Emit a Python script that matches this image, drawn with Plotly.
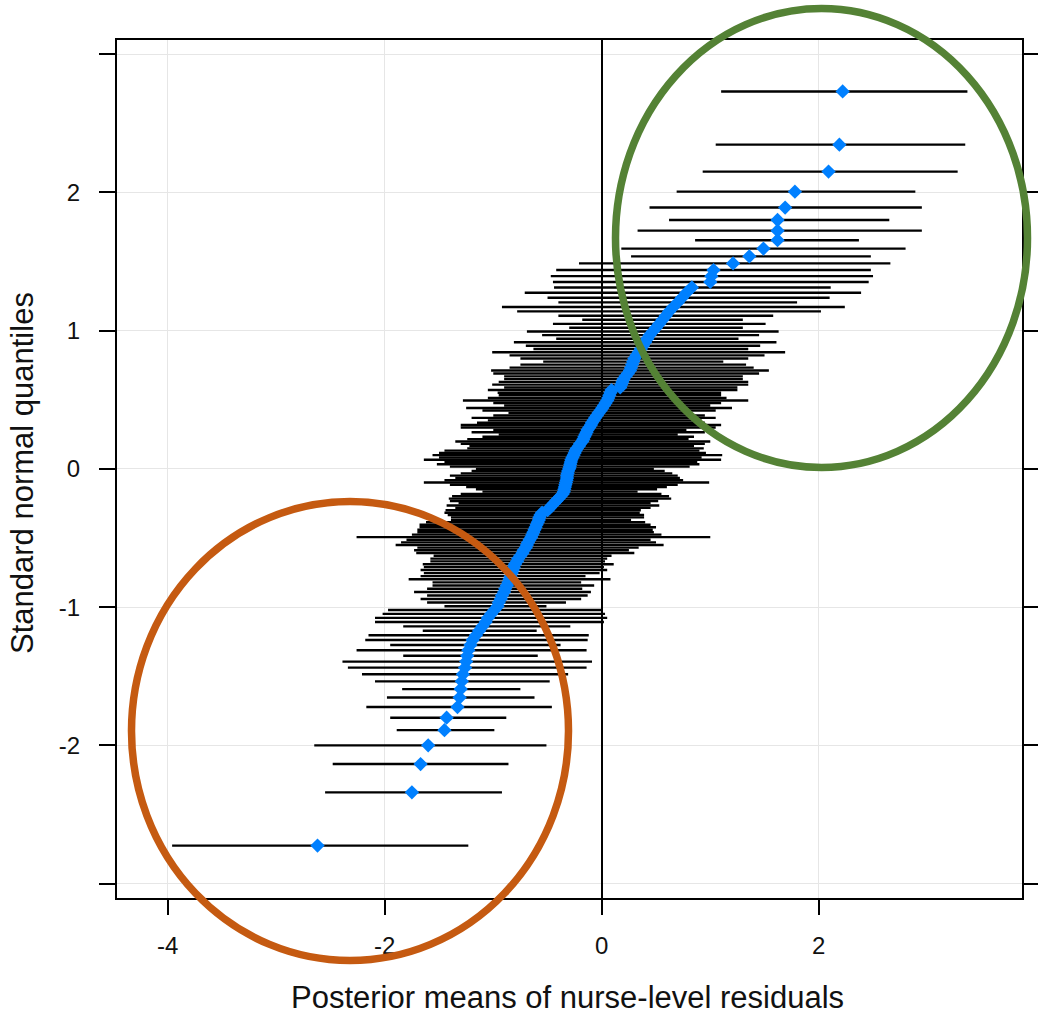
import plotly.graph_objects as go

# Standard normal quantiles (rank order, lowest to highest)
quantile = [
    -2.725, -2.340, -2.135, -2.000, -1.890, -1.800, -1.723, -1.654, -1.593, -1.537,
    -1.486, -1.438, -1.394, -1.352, -1.312, -1.274, -1.238, -1.204, -1.171, -1.139,
    -1.108, -1.078, -1.049, -1.021, -0.994, -0.967, -0.941, -0.916, -0.891, -0.867,
    -0.844, -0.821, -0.798, -0.776, -0.754, -0.732, -0.711, -0.690, -0.669, -0.649,
    -0.629, -0.609, -0.589, -0.570, -0.551, -0.532, -0.513, -0.494, -0.476, -0.458,
    -0.440, -0.422, -0.404, -0.386, -0.369, -0.351, -0.334, -0.317, -0.299, -0.282,
    -0.265, -0.248, -0.232, -0.215, -0.198, -0.181, -0.165, -0.148, -0.132, -0.115,
    -0.099, -0.082, -0.066, -0.049, -0.033, -0.016, 0.000, 0.016, 0.033, 0.049,
    0.066, 0.082, 0.099, 0.115, 0.132, 0.148, 0.165, 0.181, 0.198, 0.215,
    0.232, 0.248, 0.265, 0.282, 0.299, 0.317, 0.334, 0.351, 0.369, 0.386,
    0.404, 0.422, 0.440, 0.458, 0.476, 0.494, 0.513, 0.532, 0.551, 0.570,
    0.589, 0.609, 0.629, 0.649, 0.669, 0.690, 0.711, 0.732, 0.754, 0.776,
    0.798, 0.821, 0.844, 0.867, 0.891, 0.916, 0.941, 0.967, 0.994, 1.021,
    1.049, 1.078, 1.108, 1.139, 1.171, 1.204, 1.238, 1.274, 1.312, 1.352,
    1.394, 1.438, 1.486, 1.537, 1.593, 1.654, 1.723, 1.800, 1.890, 2.005,
    2.150, 2.345, 2.730,
]

# Posterior means of nurse-level residuals
post_mean = [
    -2.62, -1.75, -1.67, -1.60, -1.45, -1.43, -1.33, -1.31, -1.30, -1.29,
    -1.28, -1.26, -1.25, -1.24, -1.23, -1.21, -1.19, -1.16, -1.13, -1.10,
    -1.07, -1.05, -1.02, -0.99, -0.96, -0.95, -0.93, -0.92, -0.90, -0.89,
    -0.875, -0.86, -0.85, -0.84, -0.83, -0.82, -0.81, -0.80, -0.78, -0.77,
    -0.75, -0.73, -0.72, -0.70, -0.69, -0.68, -0.665, -0.65, -0.64, -0.63,
    -0.62, -0.61, -0.60, -0.59, -0.58, -0.575, -0.565, -0.55, -0.50, -0.48,
    -0.46, -0.44, -0.42, -0.40, -0.38, -0.36, -0.35, -0.345, -0.34, -0.335,
    -0.33, -0.325, -0.32, -0.32, -0.315, -0.31, -0.30, -0.295, -0.29, -0.285,
    -0.28, -0.27, -0.26, -0.25, -0.24, -0.23, -0.21, -0.20, -0.18, -0.17,
    -0.16, -0.15, -0.14, -0.13, -0.115, -0.10, -0.09, -0.075, -0.06, -0.045,
    -0.03, -0.01, 0.005, 0.02, 0.035, 0.05, 0.06, 0.07, 0.08, 0.09,
    0.17, 0.18, 0.19, 0.20, 0.22, 0.24, 0.26, 0.27, 0.28, 0.29,
    0.30, 0.32, 0.34, 0.36, 0.38, 0.40, 0.42, 0.44, 0.47, 0.50,
    0.53, 0.56, 0.59, 0.62, 0.66, 0.70, 0.74, 0.78, 0.83, 1.00,
    1.01, 1.03, 1.21, 1.36, 1.49, 1.62, 1.62, 1.62, 1.69, 1.78,
    2.09, 2.19, 2.22,
]

# Lower ends of the intervals
ci_lower = [
    -3.96, -2.55, -2.48, -2.65, -1.89, -1.95, -2.17, -1.98, -1.84, -2.09,
    -2.21, -2.34, -2.39, -1.83, -2.26, -1.95, -2.18, -2.15, -1.65, -1.83,
    -2.09, -2.09, -2.02, -1.97, -1.45, -1.61, -1.67, -1.61, -1.73, -1.61,
    -1.56, -1.56, -1.78, -1.67, -1.64, -1.67, -1.64, -1.65, -1.58, -1.58,
    -1.55, -1.71, -1.73, -1.70, -1.90, -1.85, -1.80, -2.26, -1.75, -1.70,
    -1.70, -1.68, -1.68, -1.62, -1.39, -1.39, -1.42, -1.45, -1.44, -1.35,
    -1.43, -1.32, -1.40, -1.41, -1.38, -1.30, -1.10, -1.16, -1.25, -1.40,
    -1.64, -1.45, -1.35, -1.40, -1.30, -1.20, -1.16, -1.40, -1.52, -1.45,
    -1.64, -1.50, -1.56, -1.50, -1.45, -1.24, -1.22, -1.30, -1.35, -1.24,
    -1.10, -0.95, -1.20, -1.00, -1.30, -1.30, -1.15, -1.05, -1.20, -1.00,
    -0.86, -1.10, -1.25, -0.90, -1.00, -1.28, -1.05, -0.95, -0.96, -1.05,
    -0.90, -1.01, -0.95, -0.90, -0.90, -1.00, -1.02, -0.85, -0.75, -0.54,
    -0.75, -0.85, -1.01, -0.63, -0.70, -0.81, -0.42, -0.55, -0.69, -0.30,
    -0.45, -0.18, -0.40, -0.78, -0.92, -0.40, -0.50, -0.71, -0.44, -0.45,
    -0.47, -0.42, -0.21, 0.27, 0.18, 0.86, 0.33, 0.62, 0.44, 0.69,
    0.93, 1.05, 1.10,
]

# Upper ends of the intervals
ci_upper = [
    -1.23, -0.92, -0.86, -0.51, -0.99, -0.88, -0.46, -0.62, -0.75, -0.48,
    -0.31, -0.14, -0.09, -0.59, -0.14, -0.38, -0.13, -0.12, -0.60, -0.29,
    0.02, 0.05, 0.03, 0.01, -0.51, -0.33, -0.19, -0.13, -0.10, -0.18,
    -0.07, -0.19, 0.08, -0.15, -0.02, 0.05, 0.02, 0.11, 0.03, 0.05,
    0.09, 0.30, 0.25, 0.34, 0.57, 0.50, 0.45, 1.00, 0.55, 0.48,
    0.47, 0.50, 0.45, 0.40, 0.27, 0.39, 0.39, 0.35, 0.36, 0.45,
    0.53, 0.45, 0.52, 0.64, 0.62, 0.55, 0.33, 0.51, 0.60, 0.70,
    0.99, 0.75, 0.72, 0.70, 0.65, 0.58, 0.48, 0.81, 0.90, 0.88,
    1.10, 0.92, 1.11, 0.96, 0.90, 0.94, 0.85, 0.95, 1.00, 0.80,
    0.85, 0.70, 0.95, 0.78, 1.05, 1.10, 0.95, 0.92, 1.05, 0.95,
    0.80, 1.05, 1.20, 1.00, 1.10, 1.35, 1.15, 1.10, 1.10, 1.25,
    1.25, 1.35, 1.35, 1.30, 1.30, 1.45, 1.54, 1.40, 1.33, 1.12,
    1.35, 1.50, 1.69, 1.35, 1.46, 1.61, 1.26, 1.45, 1.63, 1.30,
    1.51, 1.30, 1.58, 2.02, 2.24, 1.80, 2.10, 2.39, 2.11, 2.46,
    2.50, 2.48, 2.66, 2.48, 2.80, 2.37, 2.95, 2.65, 2.95, 2.89,
    3.28, 3.35, 3.37,
]

x_tick_vals = [-4, -2, 0, 2]
x_tick_text = ["-4", "-2", "0", "2"]
y_tick_vals = [-3, -2, -1, 0, 1, 2, 3]
y_tick_text = ["", "-2", "-1", "0", "1", "2", ""]

x_title = "Posterior means of nurse-level residuals"
y_title = "Standard normal quantiles"

assert len(quantile) == len(post_mean) == len(ci_lower) == len(ci_upper)

err_plus = [u - m for u, m in zip(ci_upper, post_mean)]
err_minus = [m - l for m, l in zip(post_mean, ci_lower)]

W, H = 1038, 1019
L, R, T, B = 117, 1022, 40, 898  # plot area in pixels


def px(xp):
    return (xp - L) / (R - L)


def py(yp):
    return (B - yp) / (B - T)


FONT = "Liberation Sans, Arial, sans-serif"

fig = go.Figure()
fig.add_trace(go.Scatter(
    x=post_mean, y=quantile, mode="markers",
    marker=dict(symbol="diamond", size=11, color="#0080ff", line=dict(width=0)),
    error_x=dict(type="data", symmetric=False, array=err_plus, arrayminus=err_minus,
                 color="black", thickness=2.4, width=0),
    showlegend=False, hoverinfo="x+y",
))

fig.update_layout(
    width=W, height=H,
    margin=dict(l=L, r=W - R, t=T, b=H - B, autoexpand=False),
    paper_bgcolor="white", plot_bgcolor="white",
    font=dict(family=FONT, color="#111111"),
    xaxis=dict(
        range=[-4.468, 3.873], tickvals=x_tick_vals, ticktext=x_tick_text,
        ticks="outside", ticklen=15, tickwidth=2, tickcolor="black",
        showline=True, linecolor="black", linewidth=2, mirror=True,
        showgrid=True, gridcolor="#e6e6e6", gridwidth=1,
        zeroline=True, zerolinecolor="black", zerolinewidth=2,
        tickfont=dict(size=24, family=FONT, color="#111111"),
        ticklabelstandoff=10, automargin=False,
    ),
    yaxis=dict(
        range=[-3.104, 3.102], tickvals=y_tick_vals, ticktext=y_tick_text,
        ticks="outside", ticklen=16, tickwidth=2, tickcolor="black",
        showline=True, linecolor="black", linewidth=2, mirror="ticks",
        showgrid=True, gridcolor="#e6e6e6", gridwidth=1,
        zeroline=False,
        tickfont=dict(size=24, family=FONT, color="#111111"),
        ticklabelstandoff=14, automargin=False,
    ),
    annotations=[
        dict(text=x_title, xref="paper", yref="paper", x=px(567), y=py(997),
             xanchor="center", yanchor="middle", showarrow=False,
             font=dict(size=31, family=FONT, color="#111111")),
        dict(text=y_title, xref="paper", yref="paper", x=px(22), y=py(473),
             xanchor="center", yanchor="middle", showarrow=False, textangle=-90,
             font=dict(size=31, family=FONT, color="#111111")),
    ],
    shapes=[
        dict(type="circle", xref="paper", yref="paper",
             x0=px(615.5), x1=px(1027.5), y0=py(467.5), y1=py(8.5),
             line=dict(color="#548235", width=7.5), layer="above"),
        dict(type="circle", xref="paper", yref="paper",
             x0=px(131.5), x1=px(568.5), y0=py(960.5), y1=py(501.5),
             line=dict(color="#c55a11", width=7.5), layer="above"),
    ],
)

fig.write_html("out.html")
